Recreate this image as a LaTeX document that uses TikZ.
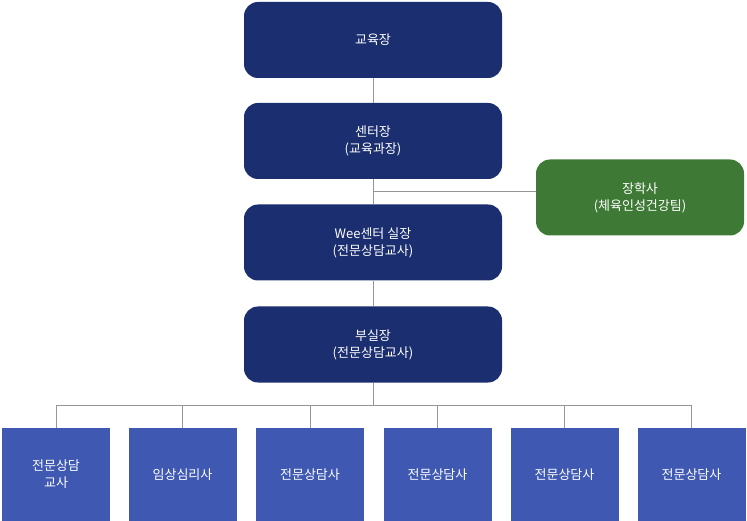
\documentclass[tikz,border=0pt]{standalone}
\usepackage{fontspec}
\setmainfont{Noto Sans CJK KR}
\usetikzlibrary{positioning}
\definecolor{navyblue}{RGB}{27, 46, 111}
\definecolor{leafgreen}{RGB}{62, 122, 53}
\definecolor{staffblue}{RGB}{63, 89, 178}
\definecolor{linegray}{RGB}{150, 150, 150}
\tikzset{
  headbox/.style={fill=navyblue, rounded corners=14pt, minimum width=258pt, minimum height=76pt, text=white, align=center, font=\fontsize{13}{17}\selectfont},
  sidebox/.style={headbox, fill=leafgreen, minimum width=208pt},
  staffbox/.style={fill=staffblue, minimum width=108pt, minimum height=93pt, text=white, align=center, font=\fontsize{13}{17}\selectfont},
  link/.style={draw=linegray, line width=0.8pt}
}
\begin{document}
\begin{tikzpicture}[x=1pt, y=-1pt]
            \useasboundingbox (0,0) rectangle (747,521);
            % Head boxes
            \node[headbox] (edu)    at (373,40)  {교육장};
            \node[headbox] (center) at (373,141) {센터장\\(교육과장)};
            \node[headbox] (wee)    at (373,242.5) {Wee센터 실장\\(전문상담교사)};
            \node[headbox] (vice)   at (373,344.5) {부실장\\(전문상담교사)};
            \node[sidebox] (sup)    at (640,197.5) {장학사\\(체육인성건강팀)};
            % Staff boxes
            \node[staffbox] (s1) at (56,474.5)  {전문상담\\교사};
            \node[staffbox] (s2) at (182.5,474.5) {임상심리사};
            \node[staffbox] (s3) at (310,474.5) {전문상담사};
            \node[staffbox] (s4) at (437.5,474.5) {전문상담사};
            \node[staffbox] (s5) at (564.5,474.5) {전문상담사};
            \node[staffbox] (s6) at (691.5,474.5) {전문상담사};
            % Links
            \draw[link] (edu) -- (center);
            \draw[link] (center) -- (wee);
            \draw[link] (wee) -- (vice);
            \coordinate (branch) at (373,191);
            \draw[link] (branch) -- (sup.west |- branch);
            \coordinate (bus) at (373,405);
            \draw[link] (vice) -- (bus);
            \draw[link] (s1.north |- bus) -- (s6.north |- bus);
            \foreach \s in {s1,s2,s3,s4,s5,s6}
                \draw[link] (\s.north |- bus) -- (\s.north);
\end{tikzpicture}
\end{document}
